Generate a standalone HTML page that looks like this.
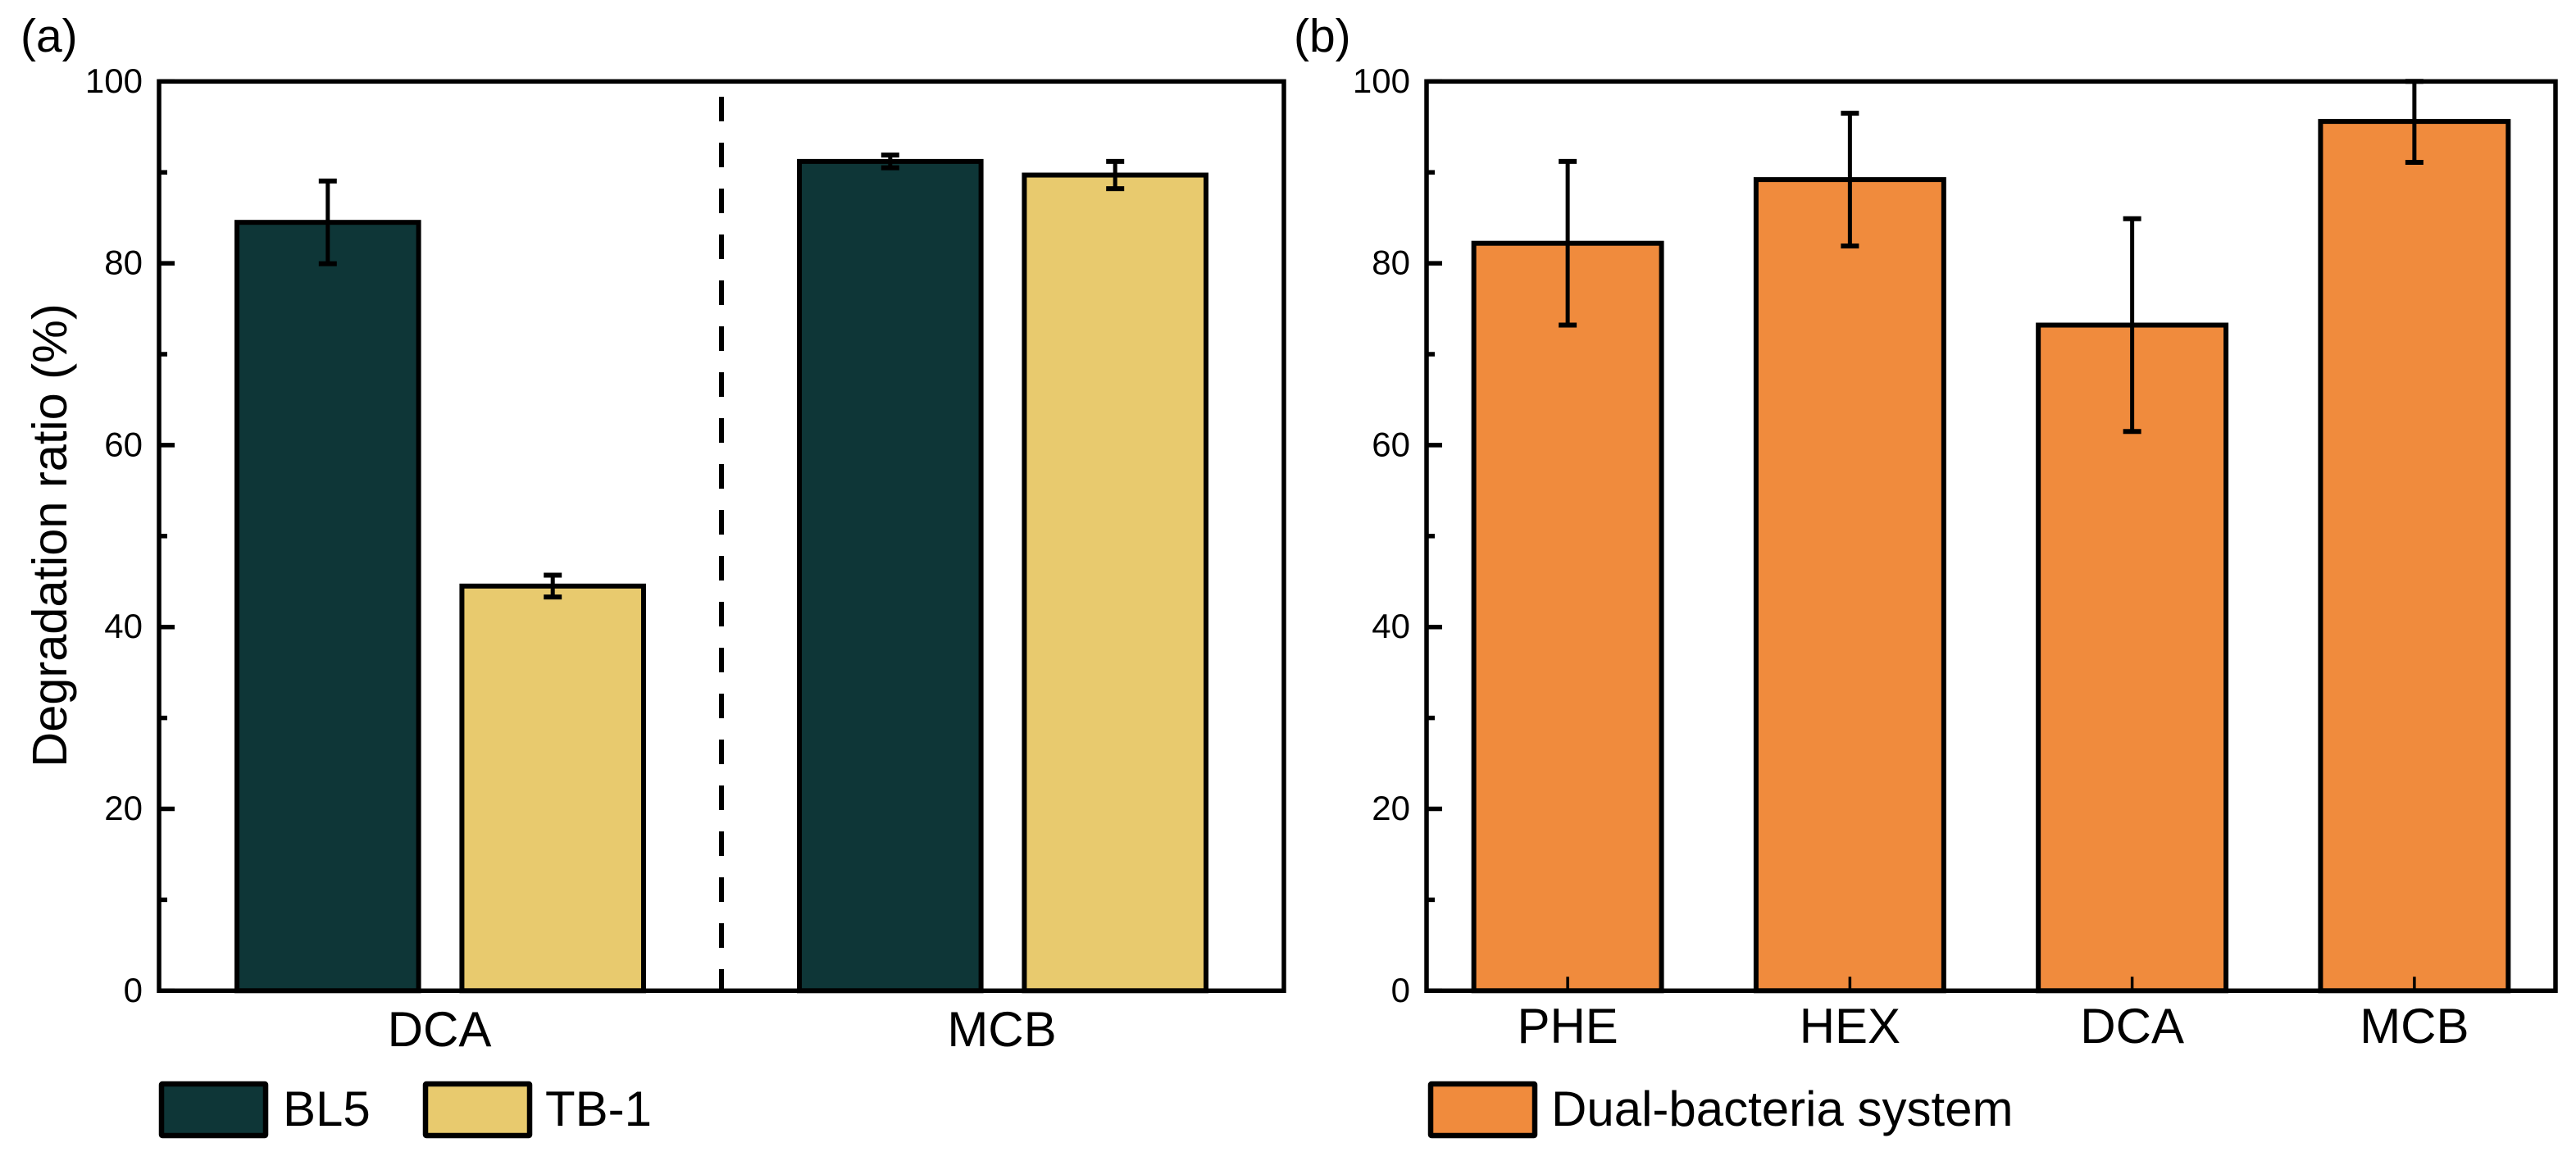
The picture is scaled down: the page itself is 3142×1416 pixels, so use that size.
<!DOCTYPE html>
<html lang="en">
<head>
<meta charset="utf-8">
<title>Degradation ratio charts</title>
<style>
html,body{margin:0;padding:0;background:#fff;width:3142px;height:1416px;overflow:hidden}
svg{display:block}
text{font-family:"Liberation Sans",Arial,sans-serif;fill:#000}
</style>
</head>
<body>
<svg id="figure" xmlns="http://www.w3.org/2000/svg" width="3142" height="1416" viewBox="0 0 3142 1416"></svg>
<script>
// Shared axis values
const yTicksMajor = [0, 20, 40, 60, 80, 100];
const yTicksMinor = [10, 30, 50, 70, 90];

// Panel (a)
const groupsA = ['DCA', 'MCB'];
const seriesNamesA = ['BL5', 'TB-1'];
const bl5Values = [84.5, 91.2];
const bl5Errors = [4.55, 0.7];
const tb1Values = [44.5, 89.7];
const tb1Errors = [1.2, 1.5];

// Panel (b)
const categoriesB = ['PHE', 'HEX', 'DCA', 'MCB'];
const dualValues = [82.2, 89.2, 73.2, 95.6];
const dualErrors = [9.0, 7.3, 11.7, 4.5];

const COLORS = {bl5: '#0E3637', tb1: '#E8CA6E', dual: '#F08B3D'};
const svg = document.getElementById('figure');
const NS = 'http://www.w3.org/2000/svg';

function el(tag, attrs, parent, text) {
  const n = document.createElementNS(NS, tag);
  for (const k in attrs) n.setAttribute(k, attrs[k]);
  if (text !== undefined) n.textContent = text;
  (parent || svg).appendChild(n);
  return n;
}
function yScale(v) { return 1208.3 - v * 11.09; }

const plotA = {left: 194, right: 1566};
const plotB = {left: 1740, right: 3117};
function bandCenter(plot, i, n) { return plot.left + (plot.right - plot.left) * (i + 0.5) / n; }

function drawBar(x, w, value, err, fill, name) {
  const bar = el('rect', {x: x - w / 2, y: yScale(value), width: w, height: yScale(0) - yScale(value), fill: fill, stroke: '#000', 'stroke-width': 6});
  
  
  const hi = Math.min(value + err, 100);
  const stem = el('line', {x1: x, x2: x, y1: yScale(hi), y2: yScale(value - err), stroke: '#000', 'stroke-width': 5});
  
  
  const capHi = el('line', {x1: x - 11, x2: x + 11, y1: yScale(hi), y2: yScale(hi), stroke: '#000', 'stroke-width': 6});
  
  
  const capLo = el('line', {x1: x - 11, x2: x + 11, y1: yScale(value - err), y2: yScale(value - err), stroke: '#000', 'stroke-width': 6});
  
  
}

function drawYAxis(plot, panel) {
  yTicksMajor.forEach(function (t) {
    const tick = el('line', {x1: plot.left, x2: plot.left + 19, y1: yScale(t), y2: yScale(t), stroke: '#000', 'stroke-width': 5.5});
    
    
    const label = el('text', {x: plot.left - 20, y: yScale(t) + 13.5, 'font-size': 42, 'text-anchor': 'end'}, svg, String(t));
    
    
  });
  yTicksMinor.forEach(function (t) {
    const tick = el('line', {x1: plot.left, x2: plot.left + 10, y1: yScale(t), y2: yScale(t), stroke: '#000', 'stroke-width': 5.5});
    
    
  });
}
function drawFrame(plot, panel) {
  const frame = el('rect', {x: plot.left, y: yScale(100), width: plot.right - plot.left, height: yScale(0) - yScale(100), fill: 'none', stroke: '#000', 'stroke-width': 5.5});
  
  
}
function legendEntry(x, textX, fill, label, panel) {
  const sw = el('rect', {x: x + 3, y: 1322, width: 127, height: 63, fill: fill, stroke: '#000', 'stroke-width': 6.5, rx: 1});
  
  
  const t = el('text', {x: textX, y: 1373, 'font-size': 60}, svg, label);
  
  
}

// ---------- Panel (a) ----------
const seriesA = [
  {values: bl5Values, errors: bl5Errors, fill: COLORS.bl5},
  {values: tb1Values, errors: tb1Errors, fill: COLORS.tb1}
];
const bandA = (plotA.right - plotA.left) / groupsA.length;
const barWidthA = bandA * 0.323;
const barOffsetA = bandA * 0.2;

const divider = el('line', {x1: (plotA.left + plotA.right) / 2, x2: (plotA.left + plotA.right) / 2, y1: 118, y2: yScale(0), stroke: '#000', 'stroke-width': 6, 'stroke-dasharray': '30 26'});



groupsA.forEach(function (g, i) {
  const c = bandCenter(plotA, i, groupsA.length);
  seriesA.forEach(function (s, j) {
    const x = c + (j === 0 ? -barOffsetA : barOffsetA);
    drawBar(x, barWidthA, s.values[i], s.errors[i], s.fill, g.toLowerCase() + '-' + seriesNamesA[j].toLowerCase());
  });
  const lab = el('text', {x: c - 1, y: 1276, 'font-size': 60, 'text-anchor': 'middle'}, svg, g);
  
  
});
drawYAxis(plotA, 'a');
drawFrame(plotA, 'a');

const yTitle = el('text', {transform: 'translate(81 653) rotate(-90)', 'font-size': 59.5, 'text-anchor': 'middle'}, svg, 'Degradation ratio (%)');



const panelA = el('text', {x: 25, y: 63, 'font-size': 57}, svg, '(a)');



legendEntry(194, 345, COLORS.bl5, seriesNamesA[0], 'a');
legendEntry(516, 665, COLORS.tb1, seriesNamesA[1], 'a');

// ---------- Panel (b) ----------
const bandB = (plotB.right - plotB.left) / categoriesB.length;
const barWidthB = bandB * 0.665;

categoriesB.forEach(function (cat, i) {
  const c = bandCenter(plotB, i, categoriesB.length);
  drawBar(c, barWidthB, dualValues[i], dualErrors[i], COLORS.dual, 'dual-' + cat.toLowerCase());
  const tick = el('line', {x1: c, x2: c, y1: yScale(0), y2: yScale(0) - 17, stroke: '#000', 'stroke-width': 3.5});
  
  
  const lab = el('text', {x: c, y: 1272, 'font-size': 60, 'text-anchor': 'middle'}, svg, cat);
  
  
});
drawYAxis(plotB, 'b');
drawFrame(plotB, 'b');

const panelB = el('text', {x: 1578, y: 63, 'font-size': 57}, svg, '(b)');



legendEntry(1742, 1892, COLORS.dual, 'Dual-bacteria system', 'b');
</script>
</body>
</html>
